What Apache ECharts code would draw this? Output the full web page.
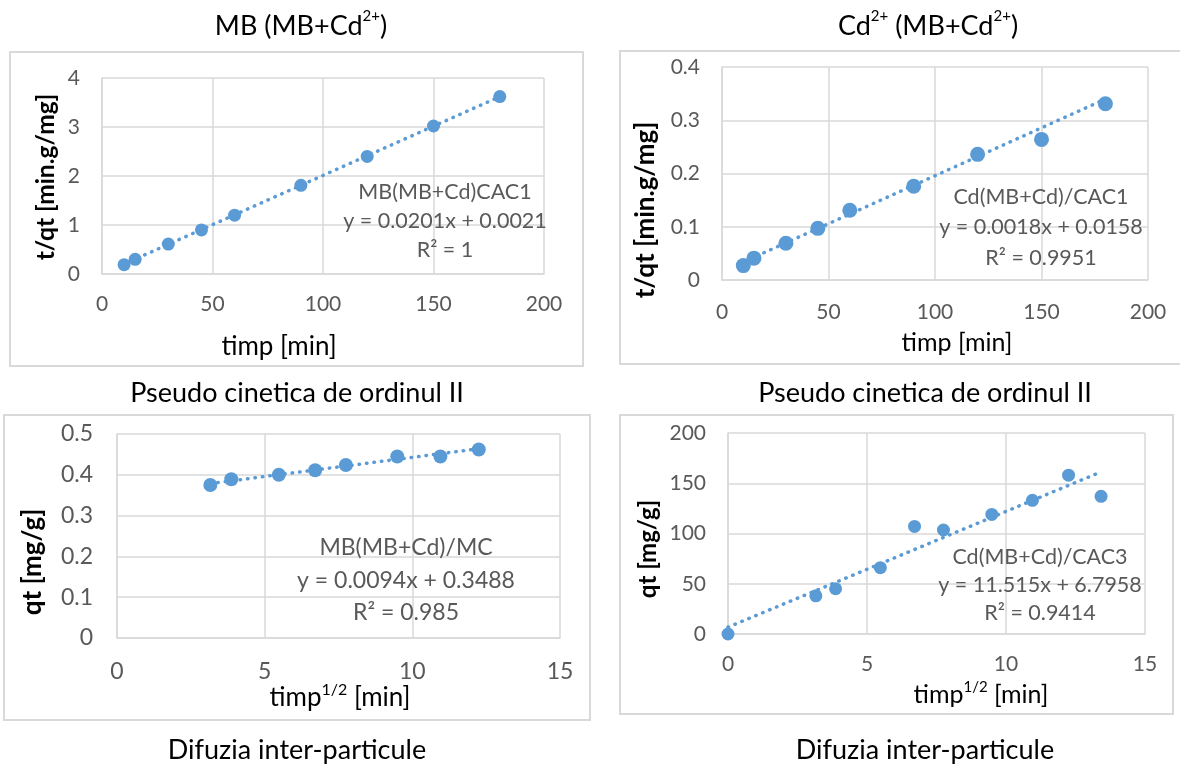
<!DOCTYPE html>
<html><head><meta charset="utf-8">
<script src="https://cdn.jsdelivr.net/npm/echarts@6/dist/echarts.min.js"></script>
<style>html,body{margin:0;padding:0;background:#fff}#c{width:1180px;height:766px}</style>
</head><body><div id="c"></div>
<script>
// ---- data ----
const timeMin = [10, 15, 30, 45, 60, 90, 120, 150, 180];
const mbTq = [0.19, 0.30, 0.61, 0.90, 1.20, 1.81, 2.40, 3.02, 3.62];
const cdTq = [0.027, 0.041, 0.069, 0.097, 0.131, 0.176, 0.236, 0.264, 0.331];
const sqrtTimeMb = [3.16, 3.87, 5.48, 6.71, 7.75, 9.49, 10.95, 12.25];
const mbQt = [0.375, 0.389, 0.400, 0.411, 0.424, 0.445, 0.445, 0.462];
const sqrtTimeCd = [0, 3.16, 3.87, 5.48, 6.71, 7.75, 9.49, 10.95, 12.25, 13.42];
const cdQt = [0, 38, 45, 66, 107, 103.5, 119, 133, 158, 137];

// trendline coefficients (from the equations printed on the chart)
const trendSlope = [0.0201, 0.0018, 0.0094, 11.515];
const trendIntercept = [0.0021, 0.0158, 0.3488, 6.7958];
const trendNames = ['MB(MB+Cd)CAC1', 'Cd(MB+Cd)/CAC1', 'MB(MB+Cd)/MC', 'Cd(MB+Cd)/CAC3'];
const trendR2 = ['1', '0.9951', '0.985', '0.9414'];

// axes
const xMax = [200, 200, 15, 15];
const xStep = [50, 50, 5, 5];
const yMax = [4, 0.4, 0.5, 200];
const yStep = [1, 0.1, 0.1, 50];

const midTitle = 'Pseudo cinetica de ordinul II';
const bottomTitle = 'Difuzia inter-particule';

// ---- layout ----
const BLUE = '#5b9bd5';
const GRAY = '#595959';
const LINE = '#d9d9d9';
const F = 'Lato, "Open Sans", sans-serif';

const grids = [
  {left: 102, top: 78, width: 442, height: 196},
  {left: 722, top: 67, width: 426, height: 213},
  {left: 117, top: 434, width: 443, height: 204},
  {left: 728, top: 433, width: 417, height: 201}
];
const xLabelMargin = [20, 22, 22, 20];
const yLabelMargin = [22, 22, 24, 22];
const tickFont = [21, 21, 23, 21];
const symbolSizes = [13, 15, 14, 13];
const xs = [timeMin, timeMin, sqrtTimeMb, sqrtTimeCd];
const ys = [mbTq, cdTq, mbQt, cdQt];

const xAxis = [], yAxis = [], series = [];
for (let i = 0; i < 4; i++) {
  xAxis.push({
    type: 'value', gridIndex: i, min: 0, max: xMax[i], interval: xStep[i],
    axisLine: {show: true, lineStyle: {color: LINE, width: 1.5}},
    axisTick: {show: false},
    splitLine: {show: true, lineStyle: {color: LINE, width: 1.5}},
    axisLabel: {color: GRAY, fontFamily: F, fontSize: tickFont[i], margin: xLabelMargin[i]}
  });
  yAxis.push({
    type: 'value', gridIndex: i, min: 0, max: yMax[i], interval: yStep[i],
    axisLine: {show: true, lineStyle: {color: LINE, width: 1.5}},
    axisTick: {show: false},
    splitLine: {show: true, lineStyle: {color: LINE, width: 1.5}},
    axisLabel: {color: GRAY, fontFamily: F, fontSize: tickFont[i], margin: yLabelMargin[i]}
  });
  const x0 = xs[i][0], x1 = xs[i][xs[i].length - 1];
  series.push({
    type: 'line', xAxisIndex: i, yAxisIndex: i, silent: true, z: 2,
    symbol: 'none',
    data: [[x0, trendSlope[i] * x0 + trendIntercept[i]], [x1, trendSlope[i] * x1 + trendIntercept[i]]],
    lineStyle: {color: BLUE, width: 3.5, type: [0.5, 7], cap: 'round'}
  });
  series.push({
    type: 'scatter', xAxisIndex: i, yAxisIndex: i, z: 3,
    symbolSize: symbolSizes[i],
    itemStyle: {color: BLUE, opacity: 1},
    data: xs[i].map((v, k) => [v, ys[i][k]])
  });
}

function txt(x, y, text, size, opts) {
  return Object.assign({
    type: 'text', x: x, y: y, z: 10,
    style: Object.assign({
      text: text, fill: '#000', fontFamily: F, fontSize: size,
      align: 'center', verticalAlign: 'middle'
    }, (opts && opts.style) || {})
  }, (opts && opts.el) || {});
}

function supRich(main, sup) {
  return {
    a: {fontFamily: F, fontSize: main, lineHeight: Math.round(main * 1.25), fill: '#000'},
    s: {fontFamily: F, fontSize: sup, lineHeight: sup + 2, verticalAlign: 'top', fill: '#000'}
  };
}

const graphics = [];
// panel boxes
[[10, 52, 573, 314], [620, 51, 562, 313], [4, 415, 586, 305], [620, 415, 553, 299]].forEach(b => {
  graphics.push({type: 'rect', shape: {x: b[0], y: b[1], width: b[2], height: b[3]},
    style: {fill: 'none', stroke: LINE, lineWidth: 2}, z: 0, silent: true});
});
// titles
graphics.push(txt(301, 26, '{a|MB (MB+Cd}{s|2+}{a|)}', 27, {style: {rich: supRich(27, 15)}}));
graphics.push(txt(928, 26, '{a|Cd}{s|2+}{a| (MB+Cd}{s|2+}{a|)}', 27, {style: {rich: supRich(27, 15)}}));
graphics.push(txt(297, 393, midTitle, 27));
graphics.push(txt(925, 393, midTitle, 27));
graphics.push(txt(297, 750, bottomTitle, 27));
graphics.push(txt(925, 750, bottomTitle, 27));
// axis titles
const yTitlePos = [[46, 177, 't/qt [min.g/mg]', 24.5], [646, 210, 't/qt [min.g/mg]', 26], [33, 562, 'qt [mg/g]', 26], [648, 549, 'qt [mg/g]', 24]];
yTitlePos.forEach(p => graphics.push(txt(p[0], p[1], p[2], p[3], {style: {fontWeight: 'bold'}, el: {rotation: Math.PI / 2}})));
graphics.push(txt(279, 347, 'timp [min]', 26));
graphics.push(txt(957, 343, 'timp [min]', 25));
graphics.push(txt(340, 698, '{a|timp}{s|1/2}{a| [min]}', 26, {style: {rich: supRich(26, 16)}}));
graphics.push(txt(981, 695, '{a|timp}{s|1/2}{a| [min]}', 25, {style: {rich: supRich(25, 15)}}));
// trendline labels
const labelPos = [[445, 192, 29, 21.5], [1041, 197, 30.5, 21.5], [406, 548, 32.5, 23], [1040, 557, 28, 21.5]];
for (let i = 0; i < 4; i++) {
  const p = labelPos[i];
  const eq = 'y = ' + trendSlope[i] + 'x + ' + trendIntercept[i];
  graphics.push(txt(p[0], p[1], trendNames[i], p[3], {style: {fill: GRAY}}));
  graphics.push(txt(p[0], p[1] + p[2], eq, p[3], {style: {fill: GRAY}}));
  graphics.push(txt(p[0], p[1] + 2 * p[2], 'R² = ' + trendR2[i], p[3], {style: {fill: GRAY}}));
}

const chart = echarts.init(document.getElementById('c'), null, {renderer: 'canvas'});
chart.setOption({
  animation: false,
  backgroundColor: '#fff',
  grid: grids.map(g => Object.assign({outerBoundsMode: 'none', containLabel: false}, g)),
  xAxis: xAxis,
  yAxis: yAxis,
  series: series,
  graphic: {elements: graphics}
});
</script></body></html>
